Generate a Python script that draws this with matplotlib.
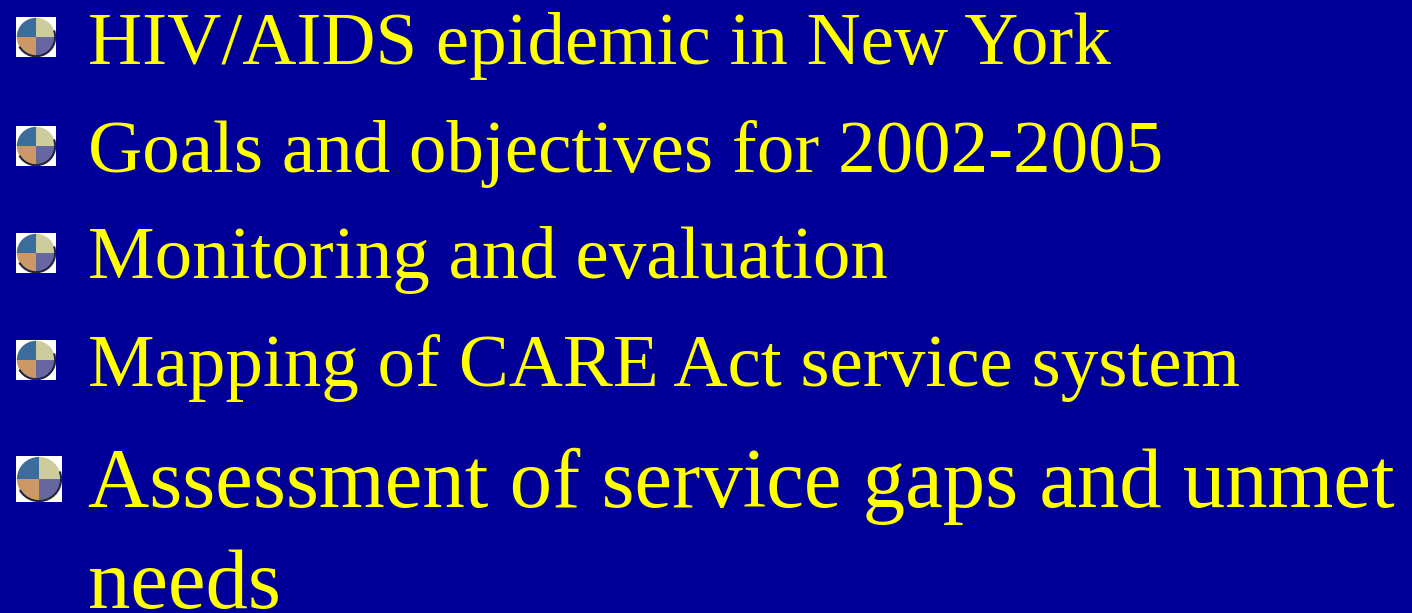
import matplotlib
matplotlib.use("Agg")
import matplotlib.pyplot as plt
from matplotlib.patches import Rectangle, Wedge, Arc

# slide content
items = [
    "HIV/AIDS epidemic in New York",
    "Goals and objectives for 2002-2005",
    "Monitoring and evaluation",
    "Mapping of CARE Act service system",
    "Assessment of service gaps and unmet",
]
wrap_line = "needs"

BG = "#000099"
YELLOW = "#ffff00"

W, H = 1412, 613
fig = plt.figure(figsize=(W / 100, H / 100), dpi=100, facecolor=BG)
ax = fig.add_axes([0, 0, 1, 1])
ax.set_xlim(0, W)
ax.set_ylim(H, 0)
ax.axis("off")
ax.set_facecolor(BG)

# layout (pixels): baseline, font size, bullet box (x, y, size)
baselines = [64, 172, 278, 386, 507]
sizes = [54, 54, 54, 54, 61]
bullets = [(16, 17, 40), (16, 126, 40), (16, 233, 40), (16, 340, 40), (16, 456, 46)]


def draw_bullet(x, y, s):
    ax.add_patch(Rectangle((x, y), s, s, facecolor="white", edgecolor="none"))
    cx, cy, r = x + s / 2, y + s / 2, s * 0.48
    # y axis is inverted, so angles run clockwise on screen
    quads = [(180, 270, "#3c6c9c"), (270, 360, "#cccc9c"),
             (90, 180, "#cc9966"), (0, 90, "#6666a0")]
    for t1, t2, c in quads:
        ax.add_patch(Wedge((cx, cy), r, t1, t2, facecolor=c, edgecolor="none"))
    ax.add_patch(Arc((cx, cy), 2 * r, 2 * r, theta1=-20, theta2=150,
                     color="#222244", lw=1.5))


for (bx, by, bs), txt, base, fs in zip(bullets, items, baselines, sizes):
    draw_bullet(bx, by, bs)
    ax.text(88, base, txt, fontsize=fs, color=YELLOW, family="Liberation Serif",
            va="baseline", ha="left")

ax.text(88, 608, wrap_line, fontsize=61, color=YELLOW, family="Liberation Serif",
        va="baseline", ha="left")

fig.savefig("out.png", dpi=100, facecolor=BG)
